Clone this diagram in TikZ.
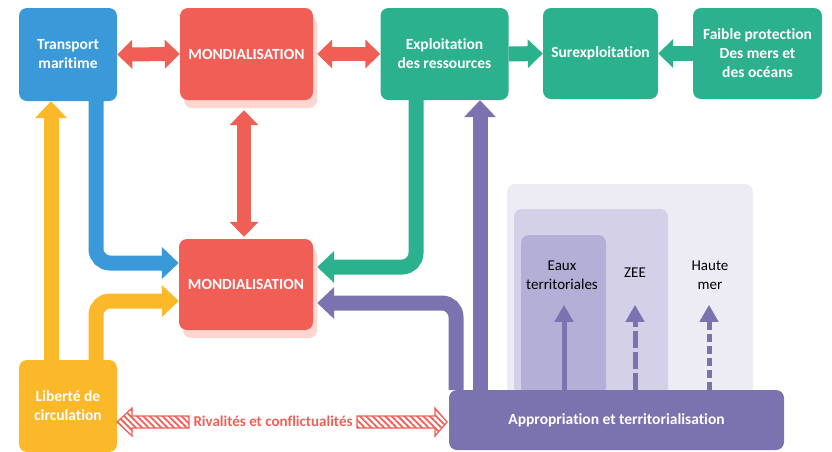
\documentclass[tikz,border=0pt]{standalone}
\usepackage{fontspec}
\setmainfont{Carlito}[Ligatures=CommonOff]
\usetikzlibrary{arrows.meta,shadows,patterns.meta}
\definecolor{cblue}{HTML}{3A9AD9}
\definecolor{cred}{HTML}{F05E56}
\definecolor{cgreen}{HTML}{2BB18D}
\definecolor{cyellow}{HTML}{FBB829}
\definecolor{cpurple}{HTML}{7B73B0}
\definecolor{cpink}{HTML}{FDD6D0}
\definecolor{cpa}{HTML}{EDEBF3}
\definecolor{cpb}{HTML}{D4D0E7}
\definecolor{cpc}{HTML}{B4AFD6}
\begin{document}
\begin{tikzpicture}[x=1pt,y=-1pt,
  box/.style={rounded corners=8pt, inner sep=0pt, text=white, align=center,
    font=\bfseries\fontsize{15.5}{19}\selectfont},
  shad/.style={drop shadow={shadow xshift=4pt,shadow yshift=-8pt,fill=cpink,opacity=1}},
  ptxt/.style={align=center, text=black, font=\fontsize{15}{19}\selectfont},
  conn/.style={line width=15pt, rounded corners=14pt, -{Triangle[width=31pt,length=17pt]}},
  dconn/.style={line width=14pt, {Triangle[width=28pt,length=15pt]}-{Triangle[width=28pt,length=15pt]}},
  sconn/.style={line width=15pt, -{Triangle[width=28pt,length=15pt]}},
  small/.style={draw=cpurple, line width=5pt, -{Triangle[width=18pt,length=17pt]}},
  hatch/.style={draw=cred, line width=1.2pt, fill=white, pattern={Lines[angle=-45,distance=4.5pt,line width=1.8pt]}, pattern color=cred}
]
\useasboundingbox (0,0) rectangle (832,451);

% background panels
\fill[cpa, rounded corners=8pt] (507,184) rectangle (753,395);
\fill[cpb, rounded corners=8pt] (514,209) rectangle (668,395);
\fill[cpc, rounded corners=8pt] (521,235) rectangle (606,395);
\node[ptxt] (eaux) at (562,275) {Eaux\\territoriales};
\node[ptxt] (zee) at (635,273) {ZEE};
\node[ptxt] (hm) at (710,275) {Haute\\mer};

% boxes
\node[box, fill=cblue, minimum width=98pt, minimum height=93pt] (tm) at (68,54.5) {Transport\\maritime};
\node[box, shad, fill=cred, minimum width=133pt, minimum height=92pt] (m1) at (246.5,54) {MONDIALISATION};
\node[box, fill=cgreen, minimum width=128pt, minimum height=92pt] (ex) at (444.5,54) {Exploitation\\des ressources};
\node[box, fill=cgreen, minimum width=115pt, minimum height=91pt] (su) at (600.5,53.5) {Surexploitation};
\node[box, fill=cgreen, minimum width=129pt, minimum height=91pt] (fp) at (757.5,53.5) {Faible protection\\Des mers et\\des océans};
\node[box, shad, fill=cred, minimum width=134pt, minimum height=91pt] (m2) at (246,284.5) {MONDIALISATION};
\node[box, fill=cyellow, minimum width=98pt, minimum height=92pt] (lib) at (68,406) {Liberté de\\circulation};
\node[box, fill=cpurple, minimum width=335pt, minimum height=60pt] (app) at (616.5,420) {Appropriation et territorialisation};

% small arrows in panels
\draw[small] ([xshift=-52.5pt]app.north) -- ([xshift=-52.5pt,yshift=85pt]app.north);
\draw[small, dash pattern=on 17pt off 4pt] ([xshift=18.5pt]app.north) -- ([xshift=18.5pt,yshift=85pt]app.north);
\draw[small, dash pattern=on 8pt off 4pt] ([xshift=92.5pt]app.north) -- ([xshift=92.5pt,yshift=85pt]app.north);

% connectors
\draw[dconn, cred] (tm.east) -- (m1.west);
\draw[dconn, cred] ([xshift=4pt]m1.east) -- (ex.west);
\draw[dconn, cred] ([xshift=-2.5pt,yshift=-10pt]m1.south) -- ([xshift=-2pt,yshift=2pt]m2.north);
\draw[sconn, cgreen] (ex.east) -- (su.west);
\draw[sconn, cgreen] (fp.west) -- (su.east);
\draw[conn, cblue] ([xshift=28pt]tm.south) |- ([yshift=21.5pt]m2.west);
\draw[conn, cyellow] ([xshift=-17pt]lib.north) -- ([xshift=-17pt]tm.south);
\draw[conn, cyellow] ([xshift=28pt]lib.north) |- ([yshift=-16.5pt]m2.west);
\draw[conn, cgreen] ([xshift=-28.5pt]ex.south) |- ([xshift=4pt,yshift=17.5pt]m2.east);
\draw[conn, cpurple] ([xshift=-160.5pt]app.north) |- ([xshift=4pt,yshift=-18.5pt]m2.east);
\draw[conn, cpurple] ([xshift=-136.5pt]app.north) -- ([xshift=35.5pt]ex.south);

% rivalites
\node[text=cred, font=\bfseries\fontsize{15}{19}\selectfont, inner sep=0pt] (riv) at (273,421) {Rivalités et conflictualités};
\draw[hatch] (117,422) -- (132,408) -- (132,416) -- (189,416) -- (189,428) -- (132,428) -- (132,436) -- cycle;
\draw[hatch] (447,422) -- (435,408) -- (435,416) -- (357,416) -- (357,428) -- (435,428) -- (435,436) -- cycle;
\end{tikzpicture}
\end{document}
